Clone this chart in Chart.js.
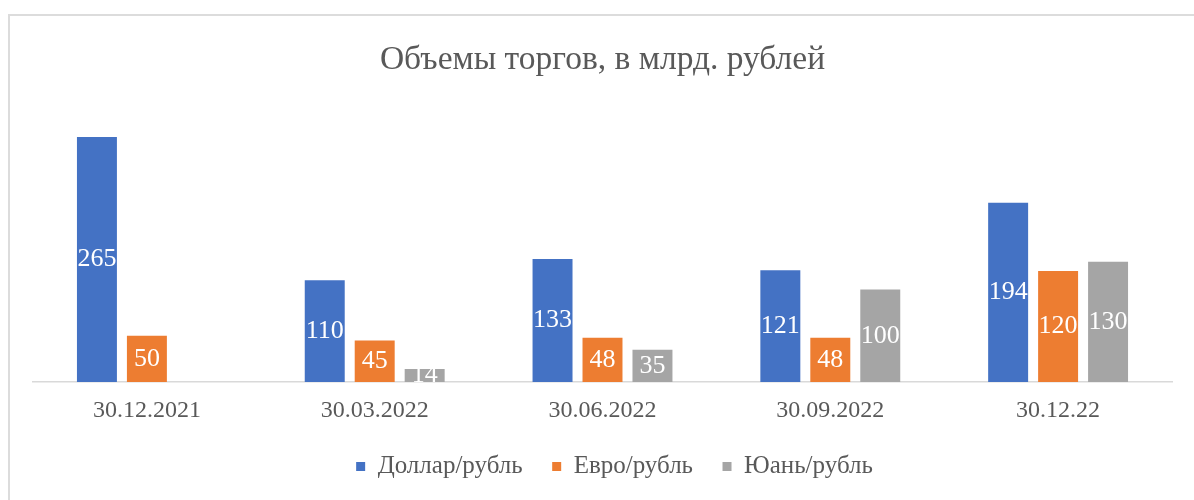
<!DOCTYPE html>
<html>
<head>
<meta charset="utf-8">
<script src="https://cdn.jsdelivr.net/npm/chart.js@4"></script>
<style>
  html, body { margin: 0; padding: 0; background: #fff; }
  #wrap { position: relative; width: 1194px; height: 500px; }
  #frame { position: absolute; left: 8px; top: 14px; right: -4px; bottom: -4px;
           border-top: 2px solid #dcdcdc; border-left: 2px solid #dcdcdc; pointer-events: none; }
</style>
</head>
<body>
<div id="wrap">
  <canvas id="chart" width="1194" height="500"></canvas>
  <div id="frame"></div>
</div>
<script>
/* ===== data ===== */
const categories = ['30.12.2021', '30.03.2022', '30.06.2022', '30.09.2022', '30.12.22'];
const usdRub = [265, 110, 133, 121, 194];
const eurRub = [50, 45, 48, 48, 120];
const cnyRub = [null, 14, 35, 100, 130];

const C = {
    blue: '#4472c4',
    orange: '#ed7d31',
    gray: '#a5a5a5',
    text: '#595959',
    axis: '#d9d9d9'
};
const FONT = "'Liberation Serif', 'Times New Roman', serif";

/* ---- labels inside bars ---- */
const barLabels = {
    id: 'barLabels',
    afterDatasetsDraw(chart) {
        const ctx = chart.ctx;
        ctx.save();
        ctx.font = '26px ' + FONT;
        ctx.fillStyle = '#ffffff';
        ctx.textAlign = 'center';
        ctx.textBaseline = 'middle';
        chart.data.datasets.forEach((ds, i) => {
            const meta = chart.getDatasetMeta(i);
            meta.data.forEach((bar, j) => {
                const v = ds.data[j];
                if (v == null) return;
                ctx.fillText(String(v), bar.x, (bar.y + bar.base) / 2);
            });
        });
        ctx.restore();
    }
};

/* ---- nudge the legend: a bit right, and up closer to the axis labels ---- */
const legendShift = {
    id: 'legendShift',
    afterLayout(chart) {
        const lg = chart.legend;
        if (!lg) return;
        lg.left += 12;
        lg.right += 12;
        lg.top -= 15.5;
        lg.bottom -= 15.5;
    }
};

const barOpts = { barPercentage: 0.8, categoryPercentage: 0.658 };

new Chart(document.getElementById('chart'), {
    type: 'bar',
    data: {
        labels: categories,
        datasets: [
            { label: 'Доллар/рубль', data: usdRub, backgroundColor: C.blue, ...barOpts },
            { label: 'Евро/рубль', data: eurRub, backgroundColor: C.orange, ...barOpts },
            { label: 'Юань/рубль', data: cnyRub, backgroundColor: C.gray, ...barOpts }
        ]
    },
    options: {
        responsive: false,
        animation: false,
        layout: { padding: { left: 33, right: 22, top: 0, bottom: -4.5 } },
        plugins: {
            title: {
                display: true,
                text: 'Объемы торгов, в млрд. рублей',
                color: C.text,
                font: { family: FONT, size: 33.5, weight: 'normal' },
                padding: { top: 40, bottom: 24.5 }
            },
            legend: {
                position: 'bottom',
                labels: {
                    color: C.text,
                    font: { family: FONT, size: 25 },
                    boxWidth: 9,
                    boxHeight: 9,
                    padding: 29.5
                }
            },
            tooltip: { enabled: false }
        },
        scales: {
            y: { display: false, min: 0, max: 300 },
            x: {
                grid: { display: false, drawTicks: false },
                border: { display: true, color: C.axis, width: 1.5 },
                ticks: { color: C.text, font: { family: FONT, size: 24, lineHeight: '27px' }, padding: 15.5 }
            }
        }
    },
    plugins: [barLabels, legendShift]
});
</script>
</body>
</html>
